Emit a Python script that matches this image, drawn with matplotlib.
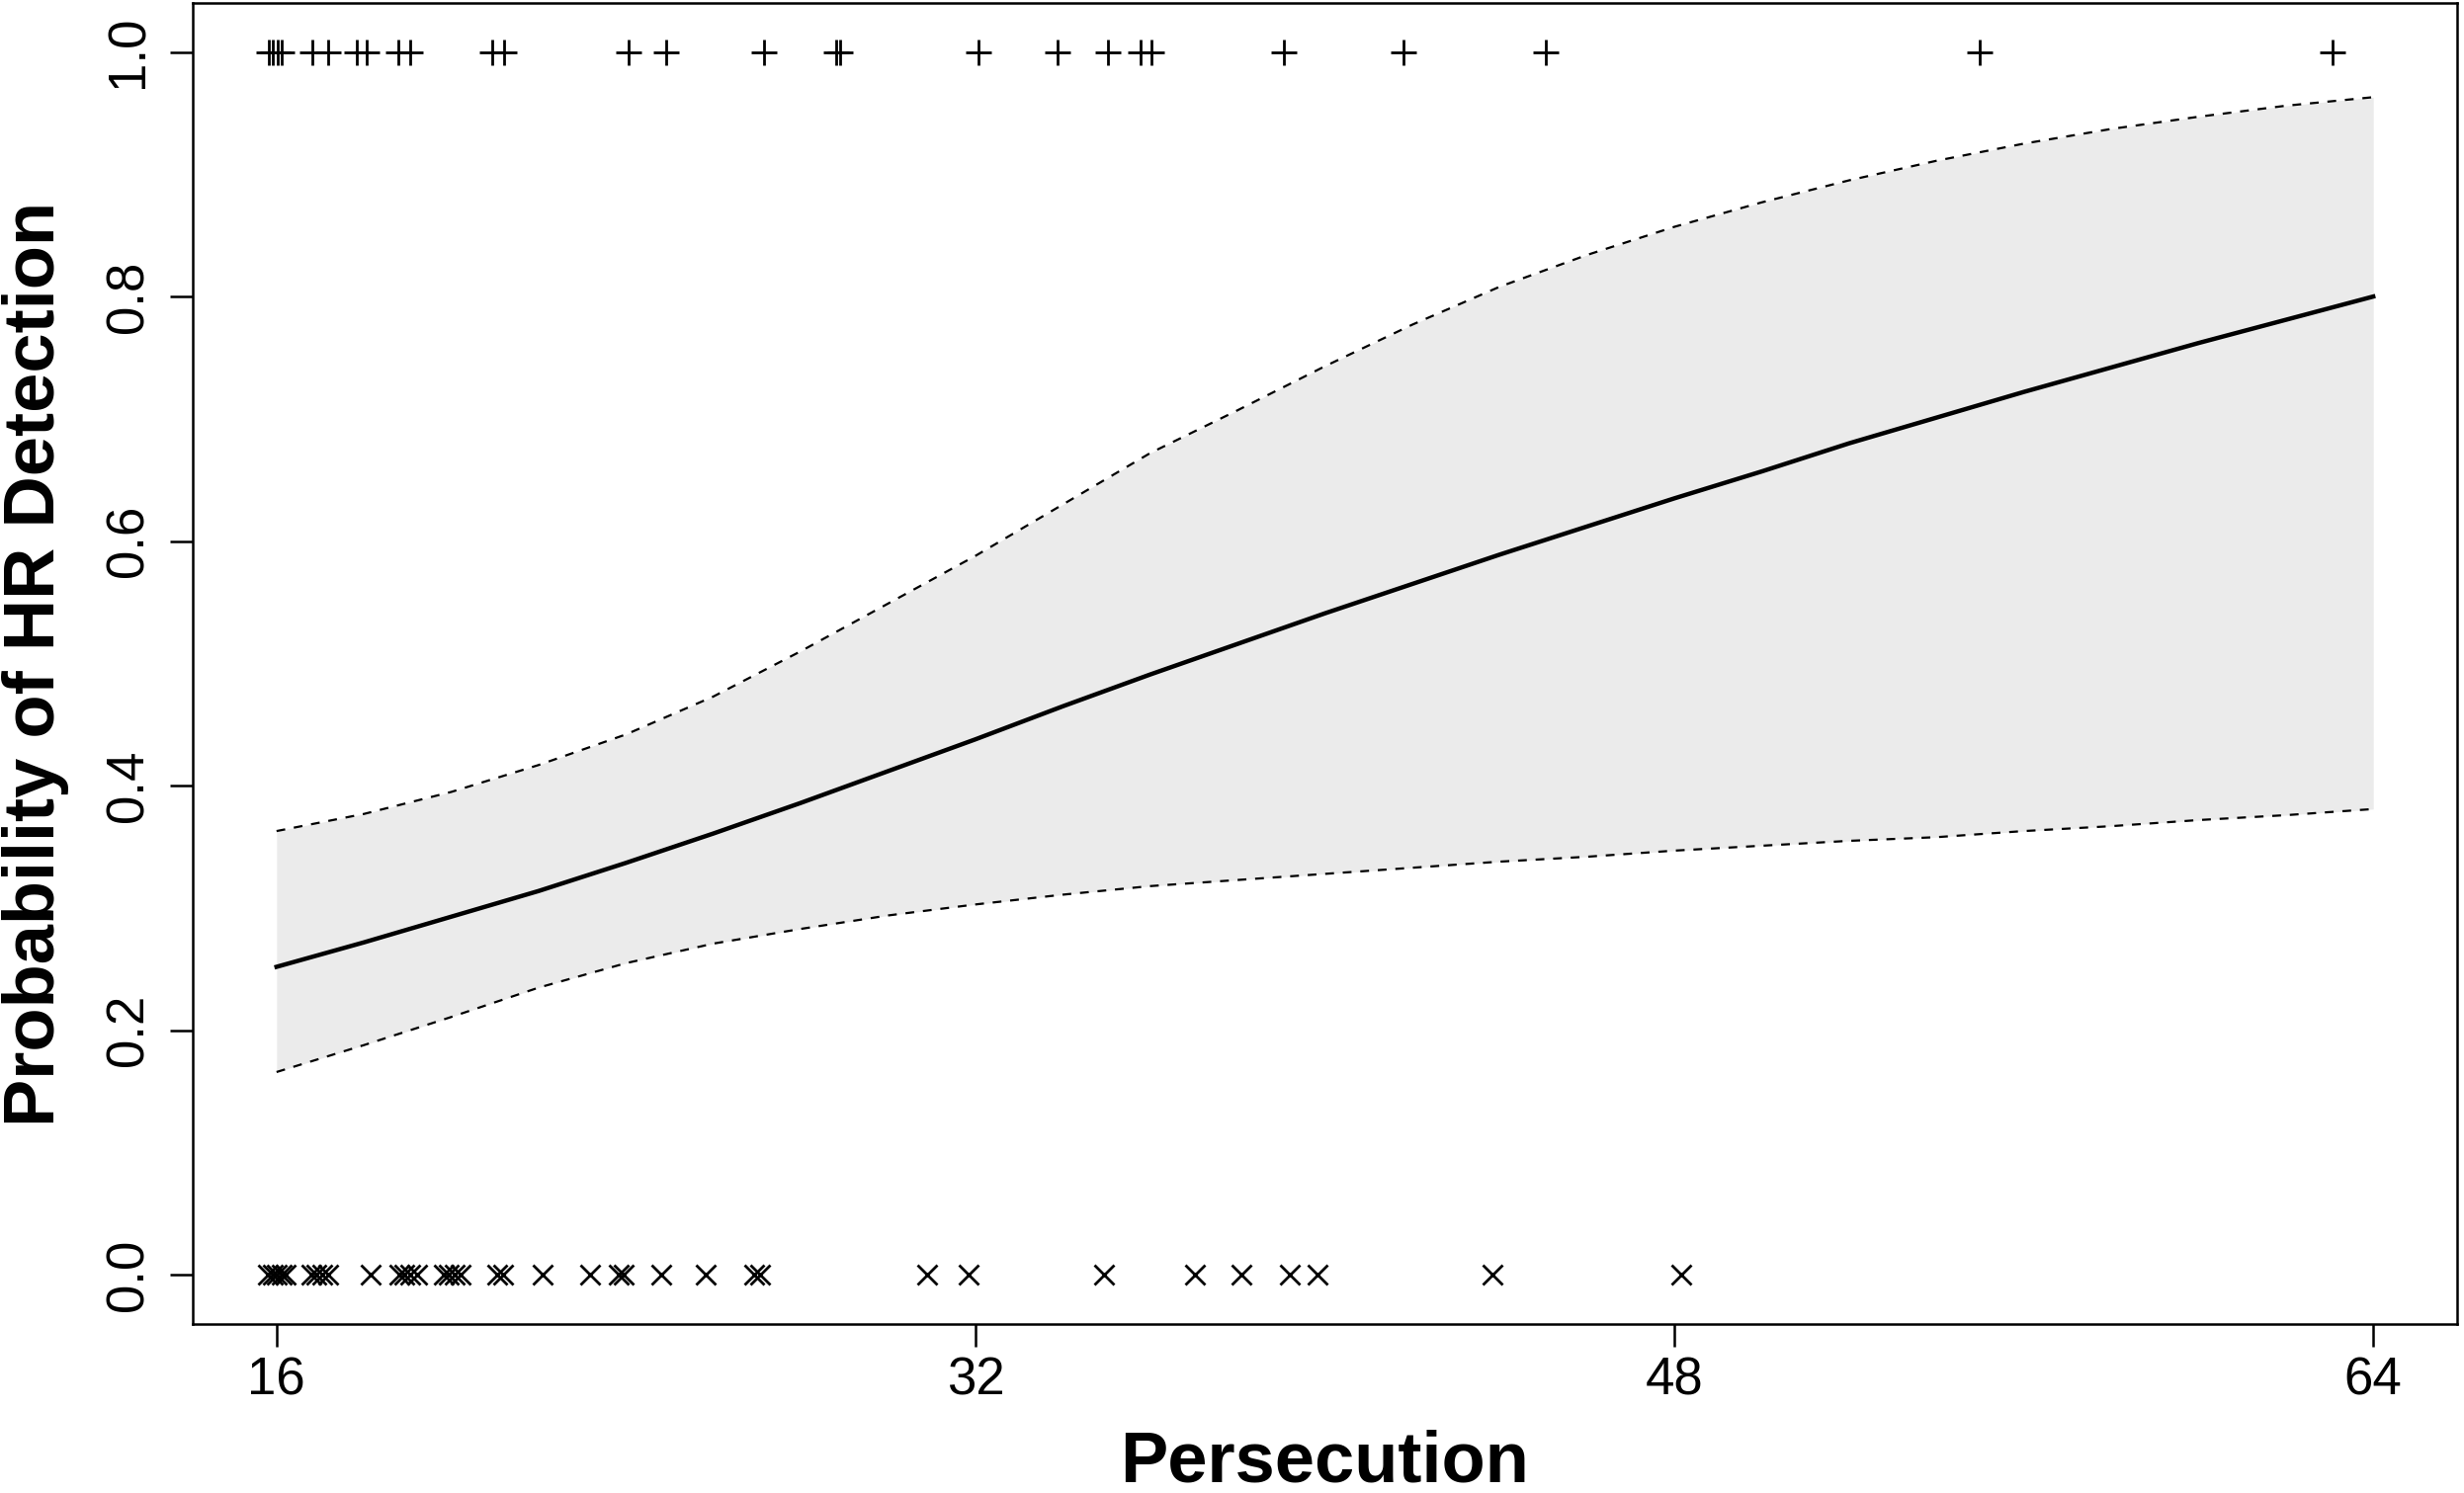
import matplotlib
matplotlib.use("Agg")
import matplotlib.pyplot as plt

plt.rcParams['font.family'] = ['Liberation Sans', 'DejaVu Sans']

# Fitted curve and confidence band
grid_x = [16, 18, 20, 22, 24, 26, 28, 30, 32, 34, 36, 38, 40, 42, 44, 46, 48,
          50, 52, 54, 56, 58, 60, 62, 64]
fit_p = [0.252, 0.272, 0.293, 0.314, 0.337, 0.361, 0.386, 0.412, 0.438, 0.465,
         0.491, 0.516, 0.541, 0.565, 0.589, 0.612, 0.635, 0.657, 0.680, 0.701,
         0.722, 0.742, 0.762, 0.781, 0.800]
upper_p = [0.363, 0.377, 0.395, 0.417, 0.442, 0.473, 0.510, 0.549, 0.588, 0.630,
           0.672, 0.707, 0.743, 0.777, 0.808, 0.834, 0.857, 0.877, 0.895, 0.911,
           0.925, 0.937, 0.947, 0.956, 0.963]
lower_p = [0.166, 0.188, 0.211, 0.235, 0.255, 0.271, 0.283, 0.294, 0.303, 0.311,
           0.318, 0.323, 0.328, 0.333, 0.338, 0.342, 0.347, 0.351, 0.355, 0.358,
           0.363, 0.367, 0.372, 0.376, 0.381]

# Observed cases (jittered persecution scores)
ones_x = [15.82, 15.92, 16.02, 16.11, 16.82, 17.19, 17.84, 18.06, 18.78, 19.07,
          20.94, 21.20, 24.07, 24.91, 27.17, 28.80, 28.90, 32.07, 33.87, 35.03,
          35.78, 36.04, 39.06, 41.81, 45.06, 54.99, 63.06]
zeros_x = [15.81, 15.91, 16.01, 16.11, 16.21, 16.80, 16.92, 17.04, 17.19, 18.15,
           18.81, 18.93, 19.06, 19.21, 19.82, 19.95, 20.07, 20.22, 21.06, 21.18,
           22.08, 23.17, 23.83, 23.95, 24.81, 25.82, 26.93, 27.08, 30.90, 31.84,
           34.95, 37.03, 38.09, 39.19, 39.82, 43.84, 48.15]

x_ticks = [16, 32, 48, 64]
y_ticks = [0.0, 0.2, 0.4, 0.6, 0.8, 1.0]

fig = plt.figure(figsize=(2493 / 200, 1511 / 200), dpi=200)
ax = fig.add_axes([0.0782, 0.1132, 0.9190, 0.8848])

ax.fill_between(grid_x, lower_p, upper_p, color='#EBEBEB', linewidth=0, zorder=1)
ax.plot(grid_x, upper_p, color='black', lw=0.8, dashes=(4, 4), zorder=2)
ax.plot(grid_x, lower_p, color='black', lw=0.8, dashes=(4, 4), zorder=2)
ax.plot(grid_x, fit_p, color='black', lw=1.6, zorder=3)

ax.plot(ones_x, [1.0] * len(ones_x), linestyle='none', marker='+',
        markersize=9.5, markeredgewidth=1.0, color='black', zorder=4)
ax.plot(zeros_x, [0.0] * len(zeros_x), linestyle='none', marker='x',
        markersize=7, markeredgewidth=1.0, color='black', zorder=4)

ax.set_xlim(14.08, 65.92)
ax.set_ylim(-0.04, 1.04)
ax.set_xticks(x_ticks)
ax.set_xticklabels([str(v) for v in x_ticks])
ax.set_yticks(y_ticks)
ax.set_yticklabels([f"{v:.1f}" for v in y_ticks], rotation=90, va='center')

ax.tick_params(axis='both', direction='out', length=8.3, width=0.9,
               labelsize=19, color='black')
ax.tick_params(axis='x', pad=3.5)
ax.tick_params(axis='y', pad=6)
for s in ax.spines.values():
    s.set_linewidth(0.9)
    s.set_color('black')

ax.set_xlabel('Persecution', fontsize=26, fontweight='bold')
ax.set_ylabel('Probability of HR Detection', fontsize=26, fontweight='bold')
ax.xaxis.set_label_coords(0.5, -0.080)
ax.yaxis.set_label_coords(-0.0546, 0.5)

fig.savefig('out.png', dpi=200)
